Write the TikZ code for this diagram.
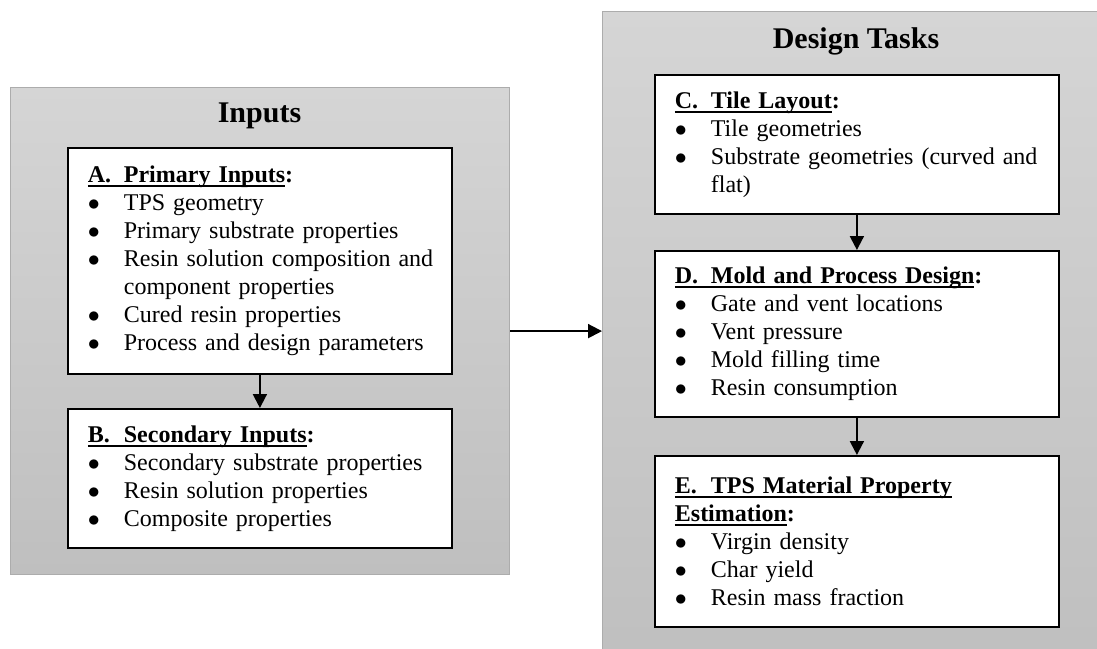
\documentclass[tikz,border=0pt]{standalone}
\usepackage{fontspec}
\setmainfont{Liberation Serif}
\usetikzlibrary{positioning}
\usetikzlibrary{arrows.meta}

\definecolor{paneltop}{RGB}{213,213,213}
\definecolor{panelbot}{RGB}{191,191,191}
\definecolor{panelline}{RGB}{172,172,172}

\newcommand{\ulhead}[1]{\setbox0\hbox{#1}\rlap{\rule[-2.2pt]{\wd0}{0.9pt}}\box0}
\newcommand{\headlbl}[1]{\makebox[18pt][l]{#1}}
\newcommand{\bitem}[1]{\par\noindent\makebox[18pt][l]{$\bullet$}\mbox{#1}}
\newcommand{\bcont}[1]{\par\noindent\hspace*{18pt}\mbox{#1}}

\begin{document}
\begin{tikzpicture}[x=0.5pt,y=-0.5pt]

		\tikzset{
			panel/.style={
				draw=panelline,
				line width=0.6pt,
				top color=paneltop,
				bottom color=panelbot,
				anchor=north west,
				inner sep=0pt
			},
			paneltitle/.style={
				anchor=base,
				inner sep=0pt,
				font=\bfseries\fontsize{15}{18}\selectfont
			},
			inbox/.style={
				draw,
				line width=0.9pt,
				fill=white,
				text width=172pt,
				align=left,
				inner xsep=10pt,
				inner ysep=8pt,
				font=\fontsize{12}{14}\selectfont
			},
			taskbox/.style={
				inbox,
				text width=182pt
			},
			flow/.style={
				-{Triangle[width=7pt,length=7pt]},
				line width=1pt
			}
		}

		\useasboundingbox (0,0) rectangle (1097,648);

		\node[panel,minimum width=249.5pt,minimum height=243.5pt] (inpanel) at (10,87) {};
		\node[panel,minimum width=254pt,minimum height=330pt] (taskpanel) at (602,11) {};

		\node[paneltitle] (intitle) at (259.5,122) {Inputs};
		\node[paneltitle] (tasktitle) at (856,48) {Design Tasks};

		\node[inbox,anchor=north west,minimum height=113pt] (A) at (67,147)
		{{\bfseries\ulhead{\headlbl{A.}Primary Inputs}:}
			\bitem{TPS geometry}
			\bitem{Primary substrate properties}
			\bitem{Resin solution composition and}
			\bcont{component properties}
			\bitem{Cured resin properties}
			\bitem{Process and design parameters}};

		\node[inbox,below=16.6pt of A,minimum height=69.5pt] (B)
		{{\bfseries\ulhead{\headlbl{B.}Secondary Inputs}:}
			\bitem{Secondary substrate properties}
			\bitem{Resin solution properties}
			\bitem{Composite properties}};

		\node[taskbox,anchor=north west,minimum height=69.5pt] (C) at (654,74)
		{{\bfseries\ulhead{\headlbl{C.}Tile Layout}:}
			\bitem{Tile geometries}
			\bitem{Substrate geometries (curved and}
			\bcont{flat)}};

		\node[taskbox,below=17.6pt of C,minimum height=83pt] (D)
		{{\bfseries\ulhead{\headlbl{D.}Mold and Process Design}:}
			\bitem{Gate and vent locations}
			\bitem{Vent pressure}
			\bitem{Mold filling time}
			\bitem{Resin consumption}};

		\node[taskbox,below=18.6pt of D,minimum height=85.5pt] (E)
		{{\bfseries\ulhead{\headlbl{E.}TPS Material Property}\par\noindent\ulhead{Estimation}:}
			\bitem{Virgin density}
			\bitem{Char yield}
			\bitem{Resin mass fraction}};

		\draw[flow] (A) -- (B);
		\draw[flow] (C) -- (D);
		\draw[flow] (D) -- (E);
		\draw[flow] (inpanel.east) -- (inpanel.east -| taskpanel.west);

	\end{tikzpicture}
\end{document}
